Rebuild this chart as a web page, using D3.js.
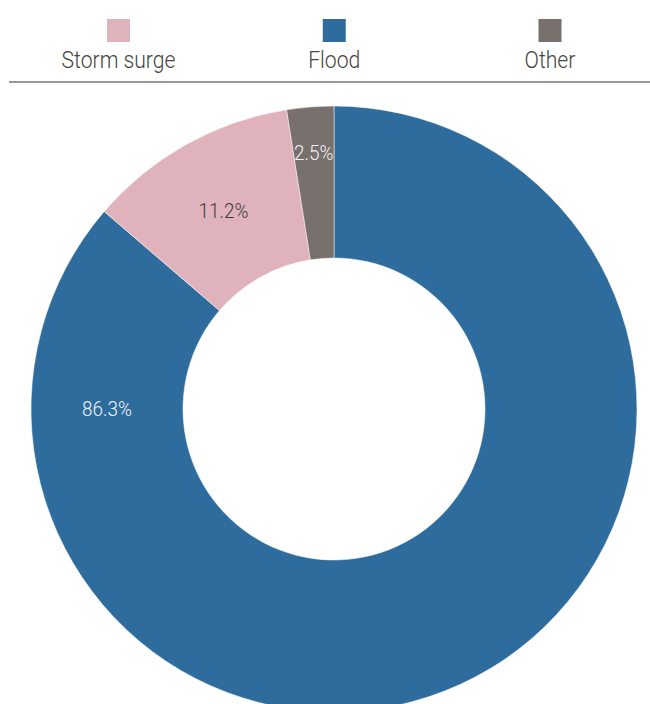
<!DOCTYPE html>
<html>
<head>
<meta charset="utf-8">
<script src="https://cdn.jsdelivr.net/npm/d3@7"></script>
<style>
  body { margin: 0; background: #fff; }
  text { font-family: Roboto, "Liberation Sans", sans-serif; font-weight: 300; }
</style>
</head>
<body>
<div id="chart"></div>
<script>
var width = 650;
var height = 704;

// data
var categories = ['Storm surge', 'Flood', 'Other'];
var values = [11.2, 86.3, 2.5];
var colors = ['#e0b2bb', '#2f6c9e', '#77706d'];
var labelColors = ['#3c3c3c', '#f2f2f2', '#f2f2f2'];
// drawing order, clockwise from 12 o'clock
var sliceOrder = ['Flood', 'Storm surge', 'Other'];

var squeeze = 0.9; // narrow the font a little, the original is a condensed face

var svg = d3.select('#chart').append('svg')
  .attr('width', width)
  .attr('height', height);

var color = d3.scaleOrdinal().domain(categories).range(colors);
var labelColor = d3.scaleOrdinal().domain(categories).range(labelColors);

// legend
var legendX = d3.scalePoint().domain(categories).range([118.5, 550]);
var legend = svg.append('g').attr('class', 'legend');
var item = legend.selectAll('g.item').data(categories)
  .enter().append('g')
  .attr('class', 'item')
  .attr('transform', function(d) { return 'translate(' + legendX(d) + ',0)'; });
item.append('rect')
  .attr('x', -11.5)
  .attr('y', 19)
  .attr('width', 23)
  .attr('height', 23)
  .attr('fill', function(d) { return color(d); });
item.append('text')
  .attr('transform', 'translate(0,68) scale(' + squeeze + ',1)')
  .attr('text-anchor', 'middle')
  .attr('font-size', 23.5)
  .attr('fill', '#444')
  .text(function(d) { return d; });

svg.append('line')
  .attr('x1', 9).attr('x2', width)
  .attr('y1', 82).attr('y2', 82)
  .attr('stroke', '#777')
  .attr('stroke-width', 1.5);

// donut
var cx = 334;
var cy = 409;
var outerR = 303;
var innerR = 151;

var data = sliceOrder.map(function(name) {
  return { name: name, value: values[categories.indexOf(name)] };
});

var pie = d3.pie().sort(null).value(function(d) { return d.value; });
var arc = d3.arc().innerRadius(innerR).outerRadius(outerR);
var outerArc = d3.arc().innerRadius(outerR * 0.85).outerRadius(outerR * 0.85);
var arcs = pie(data);

var g = svg.append('g').attr('transform', 'translate(' + cx + ',' + cy + ')');

g.selectAll('path.slice').data(arcs)
  .enter().append('path')
  .attr('class', 'slice')
  .attr('d', arc)
  .attr('fill', function(d) { return color(d.data.name); })
  .attr('stroke', '#fff')
  .attr('stroke-width', 0.5);

// label position: centroid; big slice labelled on the left, thin slice pushed outwards
function labelPos(d) {
  var span = d.endAngle - d.startAngle;
  if (span > Math.PI) {
    var a = 1.5 * Math.PI;
    return arc.centroid({ startAngle: a, endAngle: a });
  }
  if (span < 0.2) return outerArc.centroid(d);
  return arc.centroid(d);
}

g.selectAll('text.label').data(arcs)
  .enter().append('text')
  .attr('class', 'label')
  .attr('transform', function(d) {
    var p = labelPos(d);
    return 'translate(' + p[0] + ',' + p[1] + ') scale(' + squeeze + ',1)';
  })
  .attr('dy', '0.35em')
  .attr('text-anchor', 'middle')
  .attr('font-size', 21)
  .attr('fill', function(d) { return labelColor(d.data.name); })
  .text(function(d) { return d3.format('.1f')(d.data.value) + '%'; });
</script>
</body>
</html>
